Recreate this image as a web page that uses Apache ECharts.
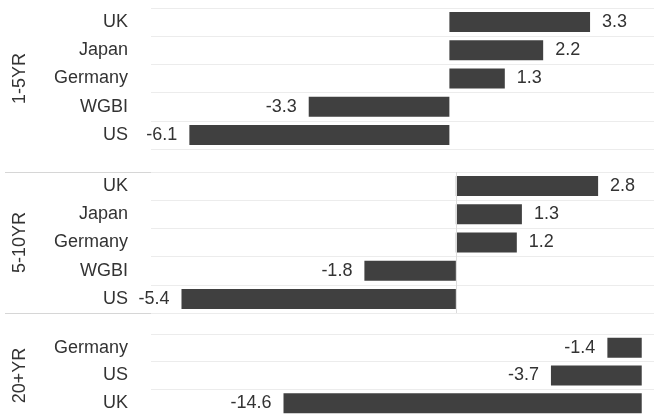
<!DOCTYPE html>
<html>
<head>
<meta charset="utf-8">
<script src="https://cdn.jsdelivr.net/npm/echarts@6/dist/echarts.min.js"></script>
<style>
  html, body { margin: 0; padding: 0; background: #fff; }
  #chart { width: 654px; height: 417px; }
</style>
</head>
<body>
<div id="chart"></div>
<script>
var panels = ['1-5YR', '5-10YR', '20+YR'];

var short_names = ['UK', 'Japan', 'Germany', 'WGBI', 'US'];
var short_vals = [3.3, 2.2, 1.3, -3.3, -6.1];

var mid_names = ['UK', 'Japan', 'Germany', 'WGBI', 'US'];
var mid_vals = [2.8, 1.3, 1.2, -1.8, -5.4];

var long_names = ['Germany', 'US', 'UK'];
var long_vals = [-1.4, -3.7, -14.6];

var chart = echarts.init(document.getElementById('chart'));

var txt = '#333';
var font = 'Liberation Sans, Arial, sans-serif';
var barColor = '#404040';

function toItems(vals) {
    return vals.map(function (v) {
        return { value: v, label: { position: v < 0 ? 'left' : 'right' } };
    });
}

var grids = [
    { left: 151, right: 0, top: 8, height: 141 },
    { left: 151, right: 0, top: 172, height: 141 },
    { left: 151, right: 0, top: 334, height: 84 }
];
var ranges = [[-7, 4.8], [-6, 3.9], [-20, 0.5]];
var names = [short_names, mid_names, long_names];
var vals = [short_vals, mid_vals, long_vals];

var xAxes = [], yAxes = [], series = [];
for (var i = 0; i < 3; i++) {
    xAxes.push({
        type: 'value', gridIndex: i, min: ranges[i][0], max: ranges[i][1],
        show: false, splitLine: { show: false }
    });
    yAxes.push({
        type: 'category', gridIndex: i, inverse: true, data: names[i],
        name: panels[i], nameLocation: 'middle', nameRotate: 90, nameGap: 122,
        nameTextStyle: { color: txt, fontSize: 18, fontFamily: font },
        axisLine: { show: false }, axisTick: { show: false },
        axisLabel: { color: txt, fontSize: 18, fontFamily: font, margin: 23 },
        splitLine: { show: true, lineStyle: { color: '#ececec', width: 1 } }
    });
    var s = {
        type: 'bar', xAxisIndex: i, yAxisIndex: i, barWidth: 20,
        data: toItems(vals[i]),
        itemStyle: { color: barColor },
        label: {
            show: true, distance: 12, color: txt, fontSize: 18, fontFamily: font,
            formatter: function (p) { return p.value.toFixed(1); }
        },
        silent: true
    };
    if (i === 1) {
        s.markLine = {
            silent: true, symbol: 'none', label: { show: false },
            lineStyle: { color: '#dcdcdc', type: 'solid', width: 1 },
            data: [{ xAxis: 0 }]
        };
    }
    series.push(s);
}

var option = {
    animation: false,
    grid: grids,
    xAxis: xAxes,
    yAxis: yAxes,
    series: series,
    graphic: [
        { type: 'line', shape: { x1: 5, y1: 172.5, x2: 151, y2: 172.5 }, style: { stroke: '#d6d6d6', lineWidth: 1 } },
        { type: 'line', shape: { x1: 5, y1: 313.5, x2: 151, y2: 313.5 }, style: { stroke: '#d6d6d6', lineWidth: 1 } }
    ]
};
chart.setOption(option);
</script>
</body>
</html>
